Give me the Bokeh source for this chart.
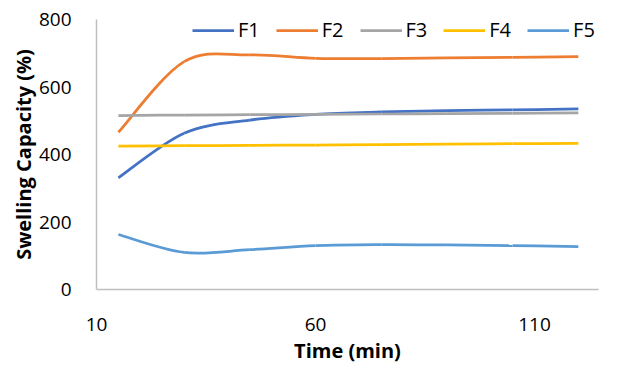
from bokeh.plotting import figure
from bokeh.models import Range1d, FixedTicker, ColumnDataSource, Legend, LegendItem
from bokeh.embed import file_html
from bokeh.resources import INLINE

# ---- data ----
time_min = [15, 30, 45, 60, 75, 90, 105, 120]
F1 = [331, 463, 502, 519, 526, 530, 532, 535]
F2 = [466, 675, 695, 685, 684, 686, 688, 690]
F3 = [515, 517, 518, 519, 520, 521, 522, 523]
F4 = [425, 426, 427, 428, 429, 431, 432, 433]
F5 = [163, 110, 118, 130, 133, 132, 130, 127]
series_names = ["F1", "F2", "F3", "F4", "F5"]
series_values = [F1, F2, F3, F4, F5]
colors = ["#4472C4", "#ED7D31", "#A5A5A5", "#FFC000", "#5B9BD5"]
x_ticks = [10, 60, 110]
y_ticks = [0, 200, 400, 600, 800]
x_title = "Time (min)"
y_title = "Swelling Capacity (%)"

FONT = "Open Sans"
X_MIN, X_MAX = 10, 124.6
Y_MIN, Y_MAX = 0, 800

p = figure(width=612, height=367, output_backend="svg", toolbar_location=None,
           x_range=Range1d(X_MIN, X_MAX), y_range=Range1d(Y_MIN, Y_MAX),
           min_border_left=96, min_border_right=14, min_border_top=19, min_border_bottom=78,
           margin=(0, 0, -16, 0))
p.outline_line_color = None
p.xgrid.visible = False
p.ygrid.visible = False
p.background_fill_color = "white"
p.border_fill_color = "white"


def smooth_segments(xs, ys):
    n = len(xs)
    d = dict(x0=[], y0=[], x1=[], y1=[], cx0=[], cy0=[], cx1=[], cy1=[])
    for i in range(n - 1):
        a = max(i - 1, 0)
        b = min(i + 2, n - 1)
        d["x0"].append(xs[i]); d["y0"].append(ys[i])
        d["x1"].append(xs[i + 1]); d["y1"].append(ys[i + 1])
        d["cx0"].append(xs[i] + (xs[i + 1] - xs[a]) / 6.0)
        d["cy0"].append(ys[i] + (ys[i + 1] - ys[a]) / 6.0)
        d["cx1"].append(xs[i + 1] - (xs[b] - xs[i]) / 6.0)
        d["cy1"].append(ys[i + 1] - (ys[b] - ys[i]) / 6.0)
    return ColumnDataSource(d)


items = []
for name, vals, col in zip(series_names, series_values, colors):
    src = smooth_segments(time_min, vals)
    r = p.bezier(x0="x0", y0="y0", x1="x1", y1="y1", cx0="cx0", cy0="cy0",
                 cx1="cx1", cy1="cy1", source=src, line_color=col, line_width=2.75)
    items.append(LegendItem(label=name, renderers=[r], index=0))

legend = Legend(items=items, orientation="horizontal", location=(96, 246),
                glyph_width=42, glyph_height=20, label_standoff=4, spacing=16,
                padding=0, margin=0, border_line_color=None,
                background_fill_alpha=0, label_text_font=FONT,
                label_text_font_size="20px", label_text_color="black")
p.add_layout(legend, "center")

for ax in (p.xaxis[0], p.yaxis[0]):
    ax.axis_line_color = "#BFBFBF"
    ax.axis_line_width = 1.5
    ax.major_tick_line_color = None
    ax.minor_tick_line_color = None
    ax.major_label_text_font = FONT
    ax.major_label_text_font_size = "19px"
    ax.major_label_text_color = "black"
    ax.axis_label_text_font = FONT
    ax.axis_label_text_font_size = "20px"
    ax.axis_label_text_font_style = "bold"
    ax.axis_label_text_color = "black"

p.xaxis.ticker = FixedTicker(ticks=x_ticks)
p.yaxis.ticker = FixedTicker(ticks=y_ticks)
p.xaxis.axis_label = x_title
p.yaxis.axis_label = y_title
p.xaxis.major_label_standoff = 22
p.xaxis.axis_label_standoff = 3
p.yaxis.major_label_standoff = 19
p.yaxis.axis_label_standoff = -1

open("out.html", "w").write(file_html(p, INLINE))
